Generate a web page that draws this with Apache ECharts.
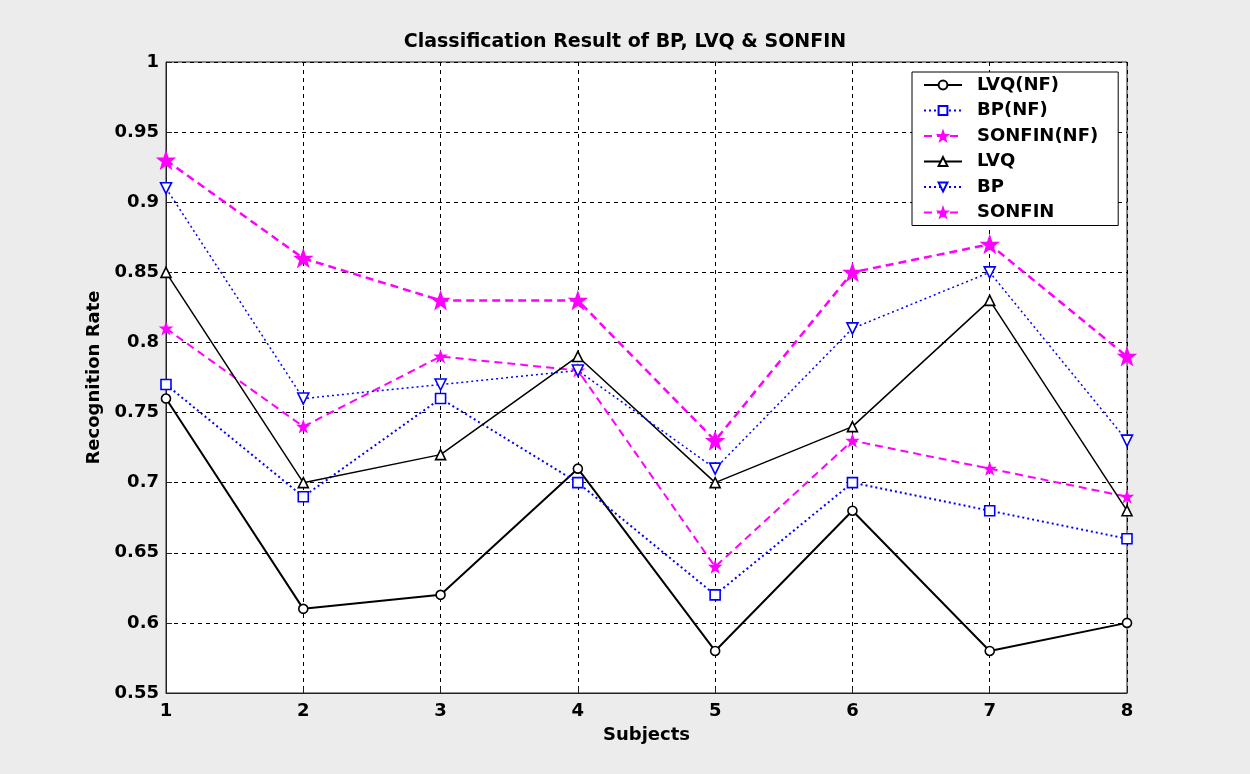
<!DOCTYPE html>
<html>
<head>
<meta charset="utf-8">
<script src="https://cdn.jsdelivr.net/npm/echarts@6/dist/echarts.min.js"></script>
<style>
  html, body { margin: 0; padding: 0; background: #ececec; }
  #chart { width: 1250px; height: 774px; }
</style>
</head>
<body>
<div id="chart"></div>
<script>
// Subjects on the x axis
const subjects = ['1', '2', '3', '4', '5', '6', '7', '8'];

// Recognition rates per classifier
const lvqNF    = [0.76, 0.61, 0.62, 0.71, 0.58, 0.68, 0.58, 0.60];
const bpNF     = [0.77, 0.69, 0.76, 0.70, 0.62, 0.70, 0.68, 0.66];
const sonfinNF = [0.81, 0.74, 0.79, 0.78, 0.64, 0.73, 0.71, 0.69];
const lvq      = [0.85, 0.70, 0.72, 0.79, 0.70, 0.74, 0.83, 0.68];
const bp       = [0.91, 0.76, 0.77, 0.78, 0.71, 0.81, 0.85, 0.73];
const sonfin   = [0.93, 0.86, 0.83, 0.83, 0.73, 0.85, 0.87, 0.79];

const FONT = '"DejaVu Sans", "Liberation Sans", Arial, sans-serif';
const STAR = 'path://M0,-10 L2.35,-3.24 9.51,-3.09 3.8,1.24 5.88,8.09 0,4 -5.88,8.09 -3.8,1.24 -9.51,-3.09 -2.35,-3.24 Z';

function series(name, data, color, lineType, width, symbol, size, filled, rotate) {
  return {
    name: name,
    type: 'line',
    data: data,
    symbol: symbol,
    symbolSize: size,
    symbolRotate: rotate || 0,
    showAllSymbol: true,
    lineStyle: { color: color, width: width, type: lineType },
    itemStyle: { color: filled ? color : '#fff', borderColor: color, borderWidth: 1.6 },
    emphasis: { disabled: true },
    z: 3
  };
}

const chart = echarts.init(document.getElementById('chart'), null, { renderer: 'canvas' });
chart.setOption({
  animation: false,
  backgroundColor: '#ececec',
  title: {
    text: 'Classification Result of BP, LVQ & SONFIN',
    left: 'center',
    top: 28,
    textStyle: { fontFamily: FONT, fontWeight: 'bold', fontSize: 19, color: '#000' }
  },
  grid: {
    left: 166, right: 123, top: 62, bottom: 81,
    show: true, backgroundColor: '#fff', borderColor: '#222', borderWidth: 1
  },
  legend: {
    orient: 'vertical',
    left: 912,
    top: 72,
    backgroundColor: '#fff',
    borderColor: '#000',
    borderWidth: 1,
    padding: [4, 20, 4, 11],
    itemWidth: 38,
    itemHeight: 11,
    itemGap: 7.5,
    textStyle: { fontFamily: FONT, fontWeight: 'bold', fontSize: 18, color: '#000', lineHeight: 18, padding: [0, 0, 0, 10] },
    data: ['LVQ(NF)', 'BP(NF)', 'SONFIN(NF)', 'LVQ', 'BP', 'SONFIN']
  },
  xAxis: {
    type: 'category',
    data: subjects,
    boundaryGap: false,
    name: 'Subjects',
    nameLocation: 'middle',
    nameGap: 33,
    nameTextStyle: { fontFamily: FONT, fontWeight: 'bold', fontSize: 18, color: '#000' },
    axisLine: { lineStyle: { color: '#222', width: 1 } },
    axisTick: { inside: true, length: 6, lineStyle: { color: '#222' } },
    axisLabel: { fontFamily: FONT, fontWeight: 'bold', fontSize: 18, color: '#000', margin: 9 },
    splitLine: { show: true, lineStyle: { color: '#000', type: [4, 4], width: 1 } }
  },
  yAxis: {
    type: 'value',
    min: 0.55,
    max: 1,
    interval: 0.05,
    name: 'Recognition Rate',
    nameLocation: 'middle',
    nameGap: 60,
    nameTextStyle: { fontFamily: FONT, fontWeight: 'bold', fontSize: 18, color: '#000' },
    axisLine: { show: true, lineStyle: { color: '#222', width: 1 } },
    axisTick: { show: true, inside: true, length: 6, lineStyle: { color: '#222' } },
    axisLabel: {
      fontFamily: FONT, fontWeight: 'bold', fontSize: 18, color: '#000', margin: 7,
      formatter: v => String(parseFloat(v.toFixed(2)))
    },
    splitLine: { show: true, lineStyle: { color: '#000', type: [4, 4], width: 1 } }
  },
  series: [
    series('LVQ(NF)', lvqNF, '#000', 'solid', 2, 'circle', 9, false),
    series('BP(NF)', bpNF, '#0000ff', [2, 3], 2, 'rect', 10, false),
    series('SONFIN(NF)', sonfinNF, '#ff00ff', [8, 5], 2, STAR, 10, true),
    series('LVQ', lvq, '#000', 'solid', 1.5, 'triangle', 10, false),
    series('BP', bp, '#0000ff', [2, 3], 1.5, 'triangle', 11, false, 180),
    series('SONFIN', sonfin, '#ff00ff', [8, 5], 2.5, STAR, 16, true)
  ]
});
</script>
</body>
</html>
